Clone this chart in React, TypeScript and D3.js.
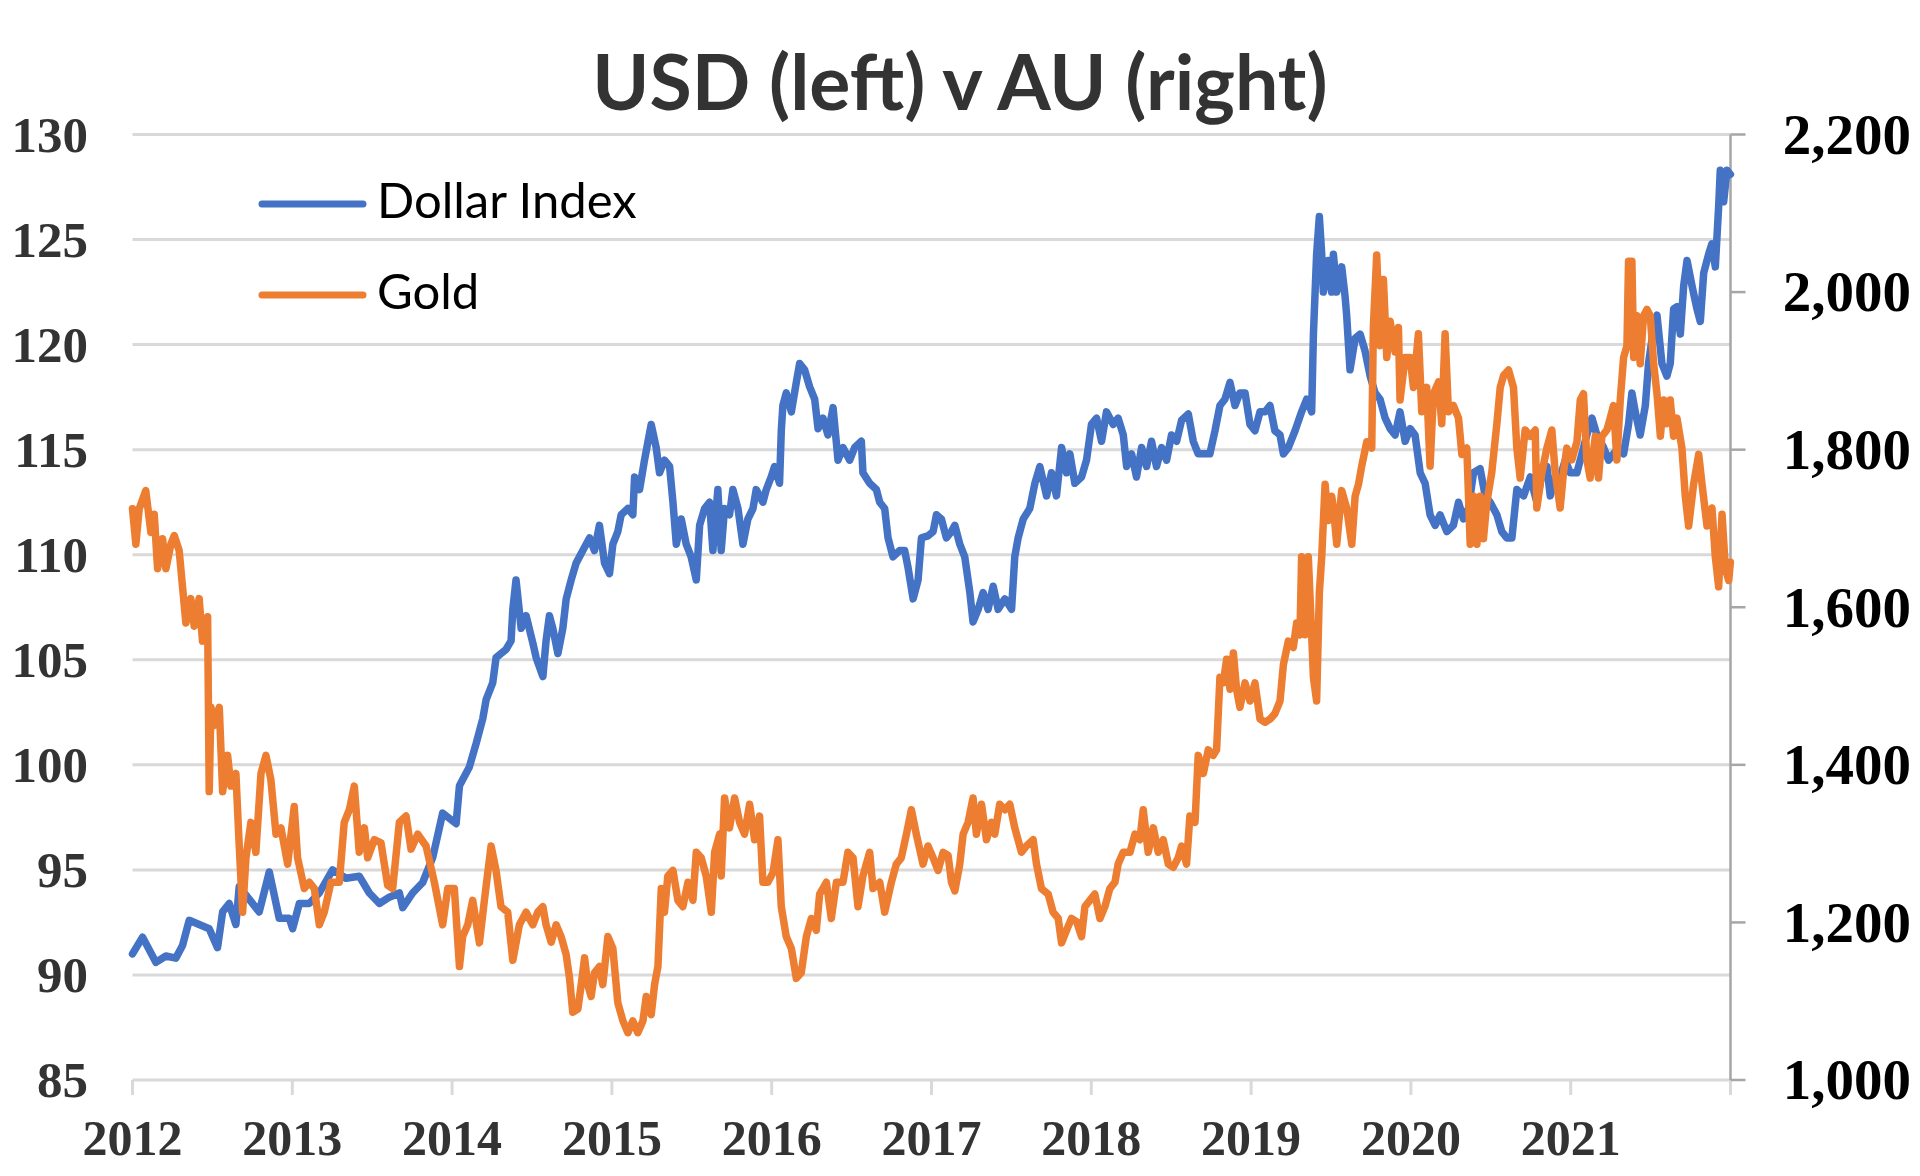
import { useEffect, useRef } from 'react';
import * as d3 from 'd3';

// [decimal year on the chart's axis, value]
const dollarIndex: [number, number][] = [
  [2012.0, 91.0], [2012.063, 91.8], [2012.146, 90.6], [2012.209, 90.9], [2012.271, 90.8],
  [2012.313, 91.4], [2012.355, 92.6], [2012.417, 92.4], [2012.48, 92.2], [2012.532, 91.3],
  [2012.564, 93.0], [2012.605, 93.4], [2012.647, 92.4], [2012.668, 94.2], [2012.731, 93.6],
  [2012.793, 93.0], [2012.856, 94.9], [2012.918, 92.7], [2012.981, 92.7], [2013.002, 92.2],
  [2013.044, 93.4], [2013.106, 93.4], [2013.169, 93.9], [2013.252, 95.0], [2013.336, 94.6],
  [2013.419, 94.7], [2013.482, 93.9], [2013.545, 93.4], [2013.607, 93.7], [2013.67, 93.9],
  [2013.691, 93.2], [2013.753, 93.9], [2013.816, 94.4], [2013.879, 95.6], [2013.941, 97.7],
  [2014.025, 97.2], [2014.046, 99.0], [2014.108, 99.9], [2014.15, 101.0], [2014.192, 102.2],
  [2014.213, 103.1], [2014.254, 103.9], [2014.275, 105.1], [2014.338, 105.5], [2014.369, 105.9],
  [2014.38, 107.4], [2014.4, 108.8], [2014.432, 106.5], [2014.463, 107.1], [2014.505, 105.8],
  [2014.526, 105.1], [2014.568, 104.2], [2014.588, 105.9], [2014.609, 107.1], [2014.63, 106.5],
  [2014.662, 105.3], [2014.693, 106.5], [2014.714, 107.9], [2014.745, 108.8], [2014.776, 109.6],
  [2014.818, 110.2], [2014.86, 110.8], [2014.891, 110.2], [2014.922, 111.4], [2014.954, 109.6],
  [2014.985, 109.1], [2015.006, 110.5], [2015.037, 111.1], [2015.058, 111.9], [2015.1, 112.2],
  [2015.131, 111.9], [2015.142, 113.7], [2015.173, 113.1], [2015.204, 114.5], [2015.246, 116.2],
  [2015.277, 115.1], [2015.298, 113.9], [2015.329, 114.5], [2015.361, 114.2], [2015.382, 112.5],
  [2015.403, 110.5], [2015.434, 111.7], [2015.465, 110.5], [2015.496, 109.9], [2015.528, 108.8],
  [2015.549, 111.4], [2015.58, 112.2], [2015.611, 112.5], [2015.632, 110.2], [2015.663, 113.1],
  [2015.684, 110.2], [2015.705, 112.2], [2015.736, 111.9], [2015.757, 113.1], [2015.789, 112.2],
  [2015.82, 110.5], [2015.851, 111.7], [2015.883, 112.2], [2015.903, 113.1], [2015.945, 112.5],
  [2015.966, 113.1], [2015.997, 113.7], [2016.018, 114.2], [2016.049, 113.4], [2016.06, 115.9],
  [2016.07, 117.1], [2016.091, 117.7], [2016.123, 116.8], [2016.154, 118.2], [2016.175, 119.1],
  [2016.206, 118.8], [2016.237, 118.0], [2016.269, 117.4], [2016.29, 116.0], [2016.321, 116.5],
  [2016.352, 115.7], [2016.384, 117.0], [2016.415, 114.5], [2016.446, 115.1], [2016.488, 114.5],
  [2016.519, 115.1], [2016.561, 115.4], [2016.571, 113.9], [2016.613, 113.4], [2016.655, 113.1],
  [2016.676, 112.5], [2016.707, 112.2], [2016.728, 110.8], [2016.759, 109.9], [2016.801, 110.2],
  [2016.832, 110.2], [2016.853, 109.4], [2016.885, 107.9], [2016.916, 108.8], [2016.937, 110.8],
  [2016.978, 110.9], [2017.01, 111.1], [2017.031, 111.9], [2017.062, 111.7], [2017.093, 110.8],
  [2017.125, 111.1], [2017.146, 111.4], [2017.177, 110.5], [2017.208, 109.9], [2017.24, 108.2],
  [2017.26, 106.8], [2017.292, 107.4], [2017.323, 108.2], [2017.354, 107.4], [2017.386, 108.5],
  [2017.417, 107.4], [2017.459, 107.9], [2017.501, 107.4], [2017.521, 109.9], [2017.542, 110.8],
  [2017.574, 111.7], [2017.615, 112.2], [2017.647, 113.4], [2017.678, 114.2], [2017.72, 112.8],
  [2017.751, 113.9], [2017.782, 112.8], [2017.814, 115.1], [2017.845, 113.9], [2017.866, 114.8],
  [2017.897, 113.4], [2017.939, 113.7], [2017.97, 114.5], [2018.001, 116.2], [2018.033, 116.5],
  [2018.064, 115.4], [2018.095, 116.8], [2018.137, 116.2], [2018.168, 116.5], [2018.2, 115.7],
  [2018.221, 114.2], [2018.252, 114.8], [2018.283, 113.7], [2018.315, 115.1], [2018.346, 114.2],
  [2018.377, 115.4], [2018.408, 114.2], [2018.44, 115.1], [2018.471, 114.5], [2018.502, 115.7],
  [2018.534, 115.4], [2018.565, 116.4], [2018.607, 116.7], [2018.638, 115.4], [2018.669, 114.8],
  [2018.701, 114.8], [2018.742, 114.8], [2018.774, 115.9], [2018.805, 117.1], [2018.836, 117.4],
  [2018.868, 118.2], [2018.899, 117.1], [2018.93, 117.7], [2018.962, 117.7], [2018.993, 116.2],
  [2019.024, 115.9], [2019.056, 116.8], [2019.087, 116.8], [2019.118, 117.1], [2019.149, 115.9],
  [2019.181, 115.7], [2019.202, 114.8], [2019.233, 115.1], [2019.275, 115.9], [2019.316, 116.8],
  [2019.348, 117.4], [2019.379, 116.8], [2019.39, 120.5], [2019.41, 124.3], [2019.427, 126.1],
  [2019.442, 124.3], [2019.452, 122.5], [2019.483, 124.0], [2019.504, 122.5], [2019.515, 124.3],
  [2019.536, 122.5], [2019.567, 123.7], [2019.588, 122.3], [2019.598, 121.4], [2019.619, 118.8],
  [2019.651, 120.3], [2019.682, 120.5], [2019.713, 119.7], [2019.745, 118.5], [2019.776, 117.7],
  [2019.807, 117.4], [2019.839, 116.5], [2019.87, 116.0], [2019.901, 115.7], [2019.932, 116.8],
  [2019.964, 115.4], [2019.995, 116.0], [2020.026, 115.7], [2020.058, 113.9], [2020.089, 113.4],
  [2020.12, 111.9], [2020.152, 111.4], [2020.183, 111.9], [2020.225, 111.1], [2020.266, 111.4],
  [2020.298, 112.5], [2020.329, 111.7], [2020.36, 112.2], [2020.392, 113.9], [2020.433, 114.1],
  [2020.465, 112.8], [2020.496, 112.5], [2020.538, 111.9], [2020.569, 111.1], [2020.6, 110.8],
  [2020.632, 110.8], [2020.663, 113.1], [2020.705, 112.8], [2020.747, 113.7], [2020.788, 112.5],
  [2020.82, 113.9], [2020.851, 114.2], [2020.872, 112.8], [2020.903, 113.7], [2020.934, 113.7],
  [2020.966, 114.5], [2020.997, 113.9], [2021.039, 113.9], [2021.07, 114.8], [2021.101, 115.7],
  [2021.133, 116.5], [2021.164, 115.7], [2021.206, 115.1], [2021.237, 114.5], [2021.268, 114.8],
  [2021.3, 115.1], [2021.331, 114.8], [2021.362, 116.2], [2021.383, 117.7], [2021.404, 116.8],
  [2021.435, 115.7], [2021.467, 117.1], [2021.487, 119.1], [2021.519, 120.8], [2021.54, 121.4],
  [2021.571, 119.1], [2021.602, 118.5], [2021.623, 119.1], [2021.644, 121.7], [2021.665, 121.8],
  [2021.686, 120.5], [2021.707, 122.8], [2021.728, 124.0], [2021.759, 122.8], [2021.79, 121.7],
  [2021.811, 121.1], [2021.832, 123.4], [2021.863, 124.3], [2021.884, 124.8], [2021.905, 123.7],
  [2021.926, 126.6], [2021.936, 128.3], [2021.957, 126.8], [2021.978, 128.3], [2021.999, 128.1],
];

const gold: [number, number][] = [
  [2012.0, 1725], [2012.021, 1680], [2012.042, 1725], [2012.083, 1748], [2012.115, 1695],
  [2012.136, 1718], [2012.157, 1649], [2012.188, 1687], [2012.209, 1649], [2012.24, 1680],
  [2012.261, 1691], [2012.292, 1672], [2012.313, 1626], [2012.334, 1580], [2012.365, 1611],
  [2012.386, 1576], [2012.417, 1611], [2012.438, 1557], [2012.47, 1588], [2012.48, 1366],
  [2012.491, 1473], [2012.511, 1450], [2012.543, 1473], [2012.564, 1366], [2012.595, 1412],
  [2012.616, 1373], [2012.647, 1389], [2012.668, 1297], [2012.689, 1213], [2012.71, 1282],
  [2012.741, 1327], [2012.772, 1289], [2012.804, 1389], [2012.835, 1412], [2012.866, 1381],
  [2012.898, 1312], [2012.929, 1320], [2012.971, 1274], [2013.012, 1347], [2013.033, 1282],
  [2013.075, 1243], [2013.106, 1251], [2013.138, 1243], [2013.169, 1197], [2013.2, 1213],
  [2013.242, 1251], [2013.294, 1251], [2013.325, 1327], [2013.357, 1343], [2013.388, 1373],
  [2013.419, 1289], [2013.451, 1320], [2013.472, 1282], [2013.513, 1305], [2013.555, 1301],
  [2013.597, 1247], [2013.628, 1243], [2013.67, 1327], [2013.712, 1335], [2013.743, 1293],
  [2013.785, 1312], [2013.837, 1297], [2013.889, 1251], [2013.941, 1197], [2013.973, 1243],
  [2014.014, 1243], [2014.046, 1144], [2014.066, 1182], [2014.098, 1197], [2014.129, 1228],
  [2014.171, 1174], [2014.202, 1228], [2014.244, 1297], [2014.275, 1266], [2014.306, 1220],
  [2014.348, 1213], [2014.38, 1152], [2014.421, 1197], [2014.463, 1213], [2014.505, 1197],
  [2014.536, 1213], [2014.568, 1220], [2014.588, 1197], [2014.62, 1175], [2014.651, 1197],
  [2014.682, 1182], [2014.714, 1159], [2014.735, 1129], [2014.755, 1086], [2014.787, 1090],
  [2014.808, 1121], [2014.829, 1155], [2014.849, 1121], [2014.87, 1106], [2014.891, 1136],
  [2014.922, 1144], [2014.943, 1121], [2014.975, 1182], [2015.006, 1167], [2015.037, 1098],
  [2015.069, 1075], [2015.1, 1060], [2015.131, 1075], [2015.162, 1060], [2015.194, 1075],
  [2015.215, 1106], [2015.246, 1083], [2015.267, 1121], [2015.288, 1144], [2015.309, 1243],
  [2015.329, 1213], [2015.35, 1259], [2015.382, 1266], [2015.413, 1228], [2015.444, 1220],
  [2015.476, 1251], [2015.507, 1228], [2015.528, 1289], [2015.559, 1282], [2015.59, 1259],
  [2015.622, 1213], [2015.643, 1289], [2015.674, 1312], [2015.684, 1259], [2015.705, 1358],
  [2015.736, 1320], [2015.768, 1358], [2015.799, 1327], [2015.83, 1312], [2015.862, 1350],
  [2015.893, 1305], [2015.924, 1335], [2015.945, 1251], [2015.976, 1251], [2016.008, 1263],
  [2016.039, 1305], [2016.06, 1220], [2016.091, 1182], [2016.123, 1167], [2016.154, 1129],
  [2016.185, 1136], [2016.217, 1182], [2016.248, 1205], [2016.279, 1190], [2016.3, 1236],
  [2016.342, 1251], [2016.373, 1205], [2016.405, 1251], [2016.446, 1251], [2016.477, 1289],
  [2016.509, 1282], [2016.54, 1220], [2016.571, 1259], [2016.613, 1289], [2016.634, 1243],
  [2016.676, 1251], [2016.707, 1213], [2016.749, 1251], [2016.78, 1274], [2016.811, 1282],
  [2016.843, 1312], [2016.874, 1343], [2016.905, 1312], [2016.947, 1274], [2016.978, 1297],
  [2017.01, 1282], [2017.041, 1266], [2017.073, 1289], [2017.104, 1285], [2017.125, 1251],
  [2017.146, 1240], [2017.177, 1274], [2017.198, 1312], [2017.229, 1327], [2017.26, 1358],
  [2017.281, 1312], [2017.313, 1350], [2017.344, 1305], [2017.375, 1327], [2017.396, 1312],
  [2017.427, 1350], [2017.459, 1343], [2017.49, 1350], [2017.521, 1320], [2017.563, 1289],
  [2017.594, 1297], [2017.636, 1305], [2017.657, 1274], [2017.688, 1243], [2017.73, 1236],
  [2017.761, 1213], [2017.793, 1205], [2017.814, 1174], [2017.845, 1190], [2017.876, 1205],
  [2017.908, 1201], [2017.939, 1182], [2017.96, 1220], [2017.991, 1228], [2018.022, 1236],
  [2018.054, 1205], [2018.085, 1220], [2018.116, 1243], [2018.148, 1251], [2018.168, 1274],
  [2018.2, 1289], [2018.242, 1289], [2018.273, 1312], [2018.304, 1305], [2018.325, 1343],
  [2018.356, 1289], [2018.388, 1320], [2018.419, 1289], [2018.45, 1305], [2018.482, 1274],
  [2018.513, 1270], [2018.544, 1282], [2018.565, 1297], [2018.596, 1274], [2018.617, 1335],
  [2018.649, 1327], [2018.669, 1412], [2018.701, 1389], [2018.732, 1419], [2018.763, 1412],
  [2018.784, 1419], [2018.805, 1511], [2018.826, 1504], [2018.847, 1534], [2018.868, 1496],
  [2018.889, 1542], [2018.909, 1496], [2018.93, 1473], [2018.962, 1504], [2018.993, 1481],
  [2019.024, 1504], [2019.056, 1458], [2019.087, 1454], [2019.118, 1458], [2019.149, 1465],
  [2019.181, 1481], [2019.202, 1527], [2019.233, 1557], [2019.264, 1549], [2019.285, 1580],
  [2019.306, 1565], [2019.316, 1664], [2019.337, 1565], [2019.358, 1664], [2019.379, 1565],
  [2019.39, 1511], [2019.41, 1481], [2019.427, 1618], [2019.442, 1664], [2019.463, 1756],
  [2019.483, 1710], [2019.504, 1741], [2019.515, 1726], [2019.536, 1680], [2019.567, 1748],
  [2019.598, 1726], [2019.63, 1680], [2019.651, 1741], [2019.672, 1756], [2019.692, 1779],
  [2019.724, 1810], [2019.755, 1802], [2019.765, 1955], [2019.786, 2047], [2019.807, 1932],
  [2019.828, 2016], [2019.849, 1917], [2019.87, 1963], [2019.901, 1924], [2019.922, 1955],
  [2019.932, 1863], [2019.964, 1917], [2019.995, 1917], [2020.016, 1879], [2020.047, 1947],
  [2020.068, 1848], [2020.099, 1879], [2020.12, 1779], [2020.141, 1871], [2020.173, 1886],
  [2020.193, 1833], [2020.214, 1947], [2020.235, 1848], [2020.266, 1856], [2020.298, 1840],
  [2020.319, 1794], [2020.35, 1802], [2020.371, 1680], [2020.392, 1741], [2020.413, 1680],
  [2020.433, 1741], [2020.454, 1687], [2020.475, 1733], [2020.506, 1771], [2020.538, 1833],
  [2020.559, 1879], [2020.58, 1894], [2020.611, 1901], [2020.642, 1879], [2020.663, 1802],
  [2020.684, 1764], [2020.715, 1825], [2020.747, 1817], [2020.778, 1825], [2020.788, 1726],
  [2020.82, 1771], [2020.851, 1802], [2020.882, 1825], [2020.903, 1771], [2020.934, 1726],
  [2020.955, 1771], [2020.976, 1802], [2021.007, 1787], [2021.039, 1810], [2021.06, 1863],
  [2021.08, 1871], [2021.101, 1787], [2021.122, 1764], [2021.154, 1817], [2021.174, 1764],
  [2021.195, 1817], [2021.227, 1825], [2021.247, 1840], [2021.268, 1856], [2021.289, 1787],
  [2021.31, 1863], [2021.331, 1917], [2021.352, 1932], [2021.362, 2039], [2021.383, 2039],
  [2021.394, 1917], [2021.414, 1970], [2021.435, 1909], [2021.456, 1970], [2021.477, 1978],
  [2021.498, 1970], [2021.519, 1909], [2021.54, 1871], [2021.561, 1817], [2021.582, 1863],
  [2021.602, 1833], [2021.623, 1863], [2021.644, 1817], [2021.665, 1840], [2021.696, 1802],
  [2021.717, 1741], [2021.738, 1703], [2021.769, 1756], [2021.801, 1794], [2021.822, 1756],
  [2021.853, 1703], [2021.884, 1726], [2021.905, 1664], [2021.926, 1626], [2021.947, 1718],
  [2021.968, 1649], [2021.989, 1634], [2021.999, 1657],
];

const yearTicks = [2012, 2013, 2014, 2015, 2016, 2017, 2018, 2019, 2020, 2021, 2022];
const yearLabels = ['2012', '2013', '2014', '2015', '2016', '2017', '2018', '2019', '2020', '2021'];
const leftTicks = [85, 90, 95, 100, 105, 110, 115, 120, 125, 130];
const rightTicks = [1000, 1200, 1400, 1600, 1800, 2000, 2200];

const series = [
  { name: 'Dollar Index', color: '#4472C4' },
  { name: 'Gold', color: '#ED7D31' },
];

export default function App() {
  const svgRef = useRef<SVGSVGElement>(null);

  useEffect(() => {
    if (!svgRef.current) return;
    const svg = d3.select(svgRef.current);
    svg.selectAll('*').remove();

    const width = 1920;
    const height = 1176;
    const left = 132.5, right = 1730.5, top = 134.5, bottom = 1080;

    const x = d3.scaleLinear().domain([2012, 2022]).range([left, right]);
    const yL = d3.scaleLinear().domain([85, 130]).range([bottom, top]);
    const yR = d3.scaleLinear().domain([1000, 2200]).range([bottom, top]);

    svg.append('rect').attr('width', width).attr('height', height).attr('fill', 'white');

    // gridlines
    svg.append('g')
      .selectAll('line')
      .data(leftTicks.filter(t => t !== 85))
      .enter().append('line')
      .attr('x1', left).attr('x2', right)
      .attr('y1', d => yL(d)).attr('y2', d => yL(d))
      .attr('stroke', '#d9d9d9').attr('stroke-width', 3);

    // bottom axis
    const xAxis = svg.append('g');
    xAxis.append('line')
      .attr('x1', left).attr('x2', right).attr('y1', bottom).attr('y2', bottom)
      .attr('stroke', '#d9d9d9').attr('stroke-width', 3);
    xAxis.selectAll('.tick')
      .data(yearTicks)
      .enter().append('line')
      .attr('x1', d => x(d)).attr('x2', d => x(d))
      .attr('y1', bottom).attr('y2', bottom + 15)
      .attr('stroke', '#d9d9d9').attr('stroke-width', 3);
    xAxis.selectAll('text')
      .data(yearLabels)
      .enter().append('text')
      .attr('x', d => x(+d))
      .attr('y', 1155)
      .attr('text-anchor', 'middle')
      .style('font-family', '"Liberation Serif", "Times New Roman", serif')
      .style('font-weight', 'bold')
      .style('font-size', '50px')
      .attr('fill', '#333')
      .text(d => d);

    // left axis labels
    svg.append('g')
      .selectAll('text')
      .data(leftTicks)
      .enter().append('text')
      .attr('x', 88)
      .attr('y', d => yL(d))
      .attr('dy', '0.34em')
      .attr('text-anchor', 'end')
      .style('font-family', '"Liberation Serif", "Times New Roman", serif')
      .style('font-weight', 'bold')
      .style('font-size', '51px')
      .attr('fill', '#333')
      .text(d => d);

    // right axis
    const rAxis = svg.append('g');
    rAxis.append('line')
      .attr('x1', right).attr('x2', right).attr('y1', top).attr('y2', bottom)
      .attr('stroke', '#a6a6a6').attr('stroke-width', 2.5);
    rAxis.selectAll('.tick')
      .data(rightTicks)
      .enter().append('line')
      .attr('x1', right).attr('x2', right + 15)
      .attr('y1', d => yR(d)).attr('y2', d => yR(d))
      .attr('stroke', '#a6a6a6').attr('stroke-width', 2.5);
    rAxis.selectAll('text')
      .data(rightTicks)
      .enter().append('text')
      .attr('x', 1911)
      .attr('y', d => yR(d))
      .attr('dy', '0.34em')
      .attr('text-anchor', 'end')
      .style('font-family', '"Liberation Serif", "Times New Roman", serif')
      .style('font-weight', 'bold')
      .style('font-size', '57px')
      .attr('fill', '#000')
      .text(d => d3.format(',')(d));

    // lines
    const lineL = d3.line<[number, number]>().x(d => x(d[0])).y(d => yL(d[1]));
    const lineR = d3.line<[number, number]>().x(d => x(d[0])).y(d => yR(d[1]));

    svg.append('path')
      .datum(dollarIndex)
      .attr('d', lineL)
      .attr('fill', 'none')
      .attr('stroke', series[0].color)
      .attr('stroke-width', 7.5)
      .attr('stroke-linejoin', 'round')
      .attr('stroke-linecap', 'round');

    svg.append('path')
      .datum(gold)
      .attr('d', lineR)
      .attr('fill', 'none')
      .attr('stroke', series[1].color)
      .attr('stroke-width', 7.5)
      .attr('stroke-linejoin', 'round')
      .attr('stroke-linecap', 'round');

    // title
    svg.append('text')
      .attr('x', 960)
      .attr('y', 110)
      .attr('text-anchor', 'middle')
      .style('font-family', 'Lato, "Open Sans", sans-serif')
      .style('font-weight', 'bold')
      .style('font-size', '77px')
      .attr('fill', '#333')
      .text('USD (left) v AU (right)');

    // legend
    const legend = svg.append('g');
    series.forEach((s, i) => {
      const ly = 204 + i * 91;
      legend.append('line')
        .attr('x1', 262).attr('x2', 363).attr('y1', ly).attr('y2', ly)
        .attr('stroke', s.color).attr('stroke-width', 7).attr('stroke-linecap', 'round');
      legend.append('text')
        .attr('x', 377).attr('y', ly + 14)
        .style('font-family', 'Lato, "Open Sans", sans-serif')
        .style('font-size', '49px')
        .attr('fill', '#000')
        .text(s.name);
    });
  }, []);

  return (
    <div style={{ position: 'absolute', left: 0, top: 0 }}>
      <svg ref={svgRef} width={1920} height={1176} style={{ display: 'block' }} />
    </div>
  );
}
